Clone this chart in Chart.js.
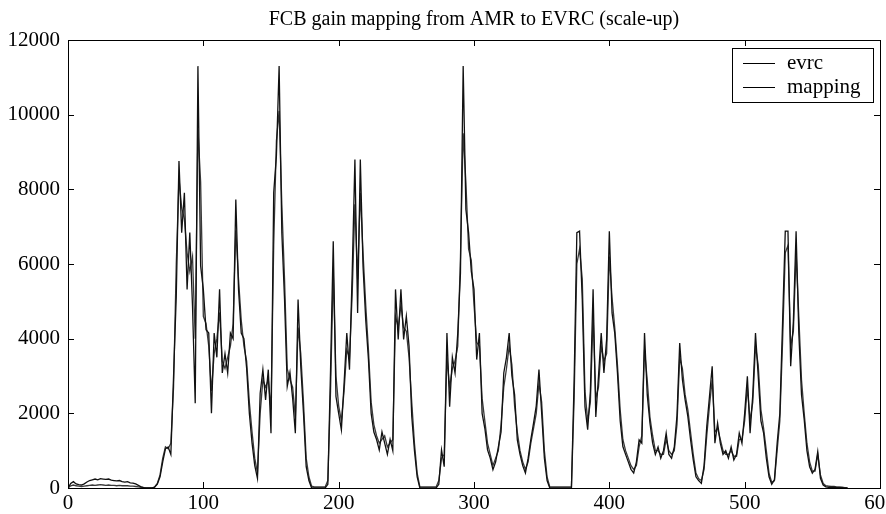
<!DOCTYPE html>
<html>
<head>
<meta charset="utf-8">
<title>FCB gain mapping</title>
<script src="https://cdn.jsdelivr.net/npm/chart.js@4.4.1/dist/chart.umd.min.js"></script>
<style>
  html, body { margin: 0; padding: 0; background: #fff; overflow: hidden; }
  #wrap { width: 886px; height: 514px; }
</style>
</head>
<body>
<div id="wrap"><canvas id="chart" width="886" height="514"></canvas></div>
<script>
const TITLE = 'FCB gain mapping from AMR to EVRC (scale-up)';
const STEP = 2;            // one sample every 2 frames
const X_TICKS = [0, 100, 200, 300, 400, 500, 600];
const Y_TICKS = [0, 2000, 4000, 6000, 8000, 10000, 12000];

// frames 0..576
const evrc = [
  0,120,170,110,90,80,110,160,200,220, 240,220,250,240,230,240,210,200,190,200,
  170,160,170,140,130,110,70,30,10,0, 0,0,20,100,300,700,1050,1100,900,3000,
  5140,8760,6840,7910,5320,6840,4870,2270,11300,5950, 5320,4240,4150,2000,4150,3500,5320,3080,3600,3080,
  4150,4000,7730,5320,4150,4000,3200,2000,1200,600, 260,2540,3170,2360,3170,1470,7910,8900,11300,6840,
  5050,2720,3100,2400,1470,5050,3260,2000,570,200, 0,0,0,0,0,0,100,3170,6610,2450,
  2000,1560,2800,4150,3170,5760,8800,4690,8800,5940, 4500,3440,2000,1500,1300,1020,1500,1200,900,1300,
  1000,5320,3980,5320,3980,4600,3800,1920,1000,300, 0,0,0,0,0,0,0,100,1020,570,
  4150,2180,3500,3080,4150,5760,11300,7460,6840,5800, 5320,3440,4150,2000,1600,1020,800,490,700,1100,
  1500,3080,3500,4150,3000,2500,1290,900,600,400, 800,1300,1740,2200,3170,2000,800,200,0,0,
  0,0,0,0,0,0,0,2900,6840,6880, 5050,2180,1560,2600,5320,1900,3000,4150,3080,3980,
  6880,4690,4150,3080,1800,1110,900,700,500,400, 700,1290,1200,4150,2500,1740,1200,900,1100,800,
  1000,1470,900,800,1100,1950,3880,2900,2360,1920, 1300,750,300,200,125,600,1650,2450,3260,1200,
  1740,1200,900,1000,800,1100,750,900,1470,1200, 2000,2990,1470,2500,4150,3000,1800,1470,800,300,
  100,220,1200,2000,4420,6880,6880,3260,4470,6880, 4150,2500,1830,1000,570,400,500,975,260,80,
  30,20,20,20,10,10,10,0,0
];

const mapping = [
  0,60,80,60,50,40,50,60,70,80, 70,80,90,80,70,80,70,70,60,70,
  60,60,60,50,50,40,30,20,10,0, 0,0,30,120,350,800,1100,1050,1200,2700,
  6000,8300,7500,7200,6300,5800,6200,4000,9600,8200, 4600,4400,3800,2600,3600,4000,4700,3400,3200,3500,
  3800,4400,6900,5600,4500,3800,3400,2300,1500,800, 400,2000,2900,2700,2900,2100,6500,9300,10100,7600,
  5600,3200,2900,2700,1900,4300,3600,2300,800,300, 50,30,30,30,30,30,200,2600,5800,3000,
  2200,1800,2600,3700,3500,5200,7600,5600,7900,6300, 4900,3700,2300,1700,1400,1200,1300,1400,1100,1200,
  1300,4600,4300,4900,4300,4200,3500,2300,1200,400, 30,30,30,30,30,30,30,200,800,900,
  3500,2700,3200,3400,3800,6200,9500,8200,6400,6100, 4900,3900,3800,2400,1800,1200,900,600,800,1000,
  1700,2700,3200,3800,3300,2200,1500,1000,700,500, 700,1200,1600,2000,2800,2300,1000,300,30,30,
  30,30,30,30,30,30,30,2400,6000,6400, 5600,2600,1800,2300,4600,2400,2700,3800,3400,3600,
  6200,5100,4300,3300,2100,1300,1000,800,600,500, 600,1100,1400,3700,2900,1900,1400,1000,1000,900,
  900,1300,1000,900,1000,1700,3500,3200,2500,2100, 1500,900,400,250,200,500,1400,2200,2900,1500,
  1600,1300,1000,900,900,1000,850,850,1300,1300, 1800,2700,1800,2300,3800,3300,2100,1600,1000,400,
  150,200,1000,1800,3900,6300,6500,3800,4200,6300, 4600,2900,2000,1200,700,450,450,900,350,120,
  60,50,40,40,30,30,20,10,0
];

const SERIES = [
  { label: 'evrc',    values: evrc,    color: '#111' },
  { label: 'mapping', values: mapping, color: '#3a3a3a' },
];

const FONT = '"Liberation Serif", "DejaVu Serif", serif';

// MATLAB-like box, inward ticks and a framed legend
const matlabFrame = {
  id: 'matlabFrame',
  afterDatasetsDraw(chart) {
    const { ctx, chartArea: a, scales } = chart;
    ctx.save();
    ctx.strokeStyle = '#000';
    ctx.lineWidth = 1;
    ctx.strokeRect(a.left + 0.5, a.top + 0.5, a.right - a.left, a.bottom - a.top);

    const tl = 6;
    ctx.beginPath();
    X_TICKS.forEach(v => {
      const x = Math.round(scales.x.getPixelForValue(v)) + 0.5;
      ctx.moveTo(x, a.bottom); ctx.lineTo(x, a.bottom - tl);
      ctx.moveTo(x, a.top);    ctx.lineTo(x, a.top + tl);
    });
    Y_TICKS.forEach(v => {
      const y = Math.round(scales.y.getPixelForValue(v)) + 0.5;
      ctx.moveTo(a.left, y);  ctx.lineTo(a.left + tl, y);
      ctx.moveTo(a.right, y); ctx.lineTo(a.right - tl, y);
    });
    ctx.stroke();

    // legend box
    const bx = 732, by = 48, bw = 141, bh = 54;
    ctx.fillStyle = '#fff';
    ctx.fillRect(bx, by, bw, bh);
    ctx.strokeRect(bx + 0.5, by + 0.5, bw, bh);
    ctx.font = '21px ' + FONT;
    ctx.textBaseline = 'middle';
    chart.data.datasets.forEach((ds, i) => {
      const y = by + 15 + i * 24;
      ctx.strokeStyle = '#000';
      ctx.beginPath();
      ctx.moveTo(bx + 11, y + 0.5); ctx.lineTo(bx + 43, y + 0.5);
      ctx.stroke();
      ctx.fillStyle = '#000';
      ctx.fillText(ds.label, bx + 55, y);
    });
    ctx.restore();
  }
};

function buildChart() {
  const ctx = document.getElementById('chart').getContext('2d');
  new Chart(ctx, {
    type: 'line',
    data: {
      datasets: SERIES.map(s => ({
        label: s.label,
        data: s.values.map((v, i) => ({ x: i * STEP, y: v })),
        borderColor: s.color,
        borderWidth: 1.3,
        pointRadius: 0,
        tension: 0,
        fill: false,
      }))
    },
    options: {
      responsive: false,
      animation: false,
      layout: { padding: { left: 0, right: 6, top: 0, bottom: 0 } },
      plugins: {
        legend: { display: false },
        tooltip: { enabled: false },
        title: {
          display: true,
          fullSize: false,
          text: TITLE,
          color: '#000',
          font: { family: FONT, size: 20, weight: 'normal', lineHeight: 1.2 },
          padding: { top: 8, bottom: 8 }
        }
      },
      scales: {
        x: {
          type: 'linear',
          min: 0, max: 600,
          afterBuildTicks: s => { s.ticks = X_TICKS.map(v => ({ value: v })); },
          afterFit: s => { s.paddingLeft = 0; s.paddingRight = 0; s.height = 26; },
          grid: { display: false, drawTicks: false },
          border: { display: false },
          ticks: { color: '#000', padding: 3, maxRotation: 0, font: { family: FONT, size: 21 },
                   callback: v => String(v) }
        },
        y: {
          min: 0, max: 12000,
          afterBuildTicks: s => { s.ticks = Y_TICKS.map(v => ({ value: v })); },
          afterFit: s => { s.width = 68; },
          grid: { display: false, drawTicks: false },
          border: { display: false },
          ticks: { color: '#000', padding: 8, font: { family: FONT, size: 21 },
                   callback: v => String(v) }
        }
      }
    },
    plugins: [matlabFrame]
  });
}

buildChart();
</script>
</body>
</html>
